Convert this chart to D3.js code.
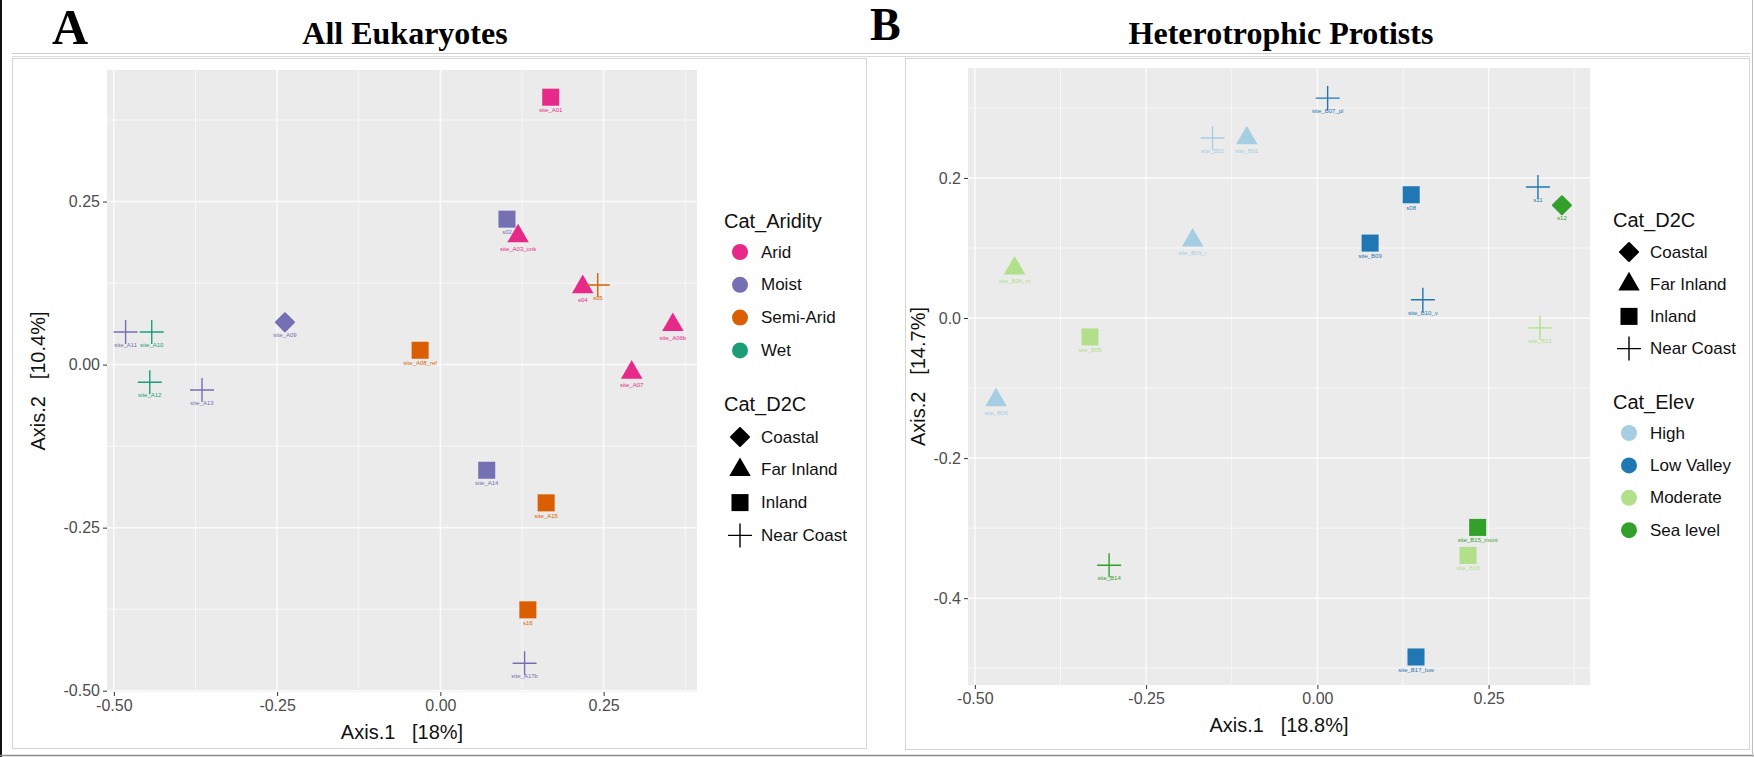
<!DOCTYPE html>
<html><head><meta charset="utf-8">
<script src="https://cdn.jsdelivr.net/npm/d3@7"></script>
<style>
html,body{margin:0;padding:0;background:#fff;}
svg{display:block;font-family:"Liberation Sans",Arial,sans-serif;}
</style></head>
<body>
<svg id="chart" width="1754" height="757"></svg>
<script>
// ---------- data ----------
const aridityCats = ["Arid", "Moist", "Semi-Arid", "Wet"];
const aridityColors = ["#E7298A", "#7570B3", "#D95F02", "#1B9E77"];
const elevCats = ["High", "Low Valley", "Moderate", "Sea level"];
const elevColors = ["#A6CEE3", "#1F78B4", "#B2DF8A", "#33A02C"];
const d2cCats = ["Coastal", "Far Inland", "Inland", "Near Coast"];

// Panel A: All Eukaryotes
const aNames = ["site_A01","s02","site_A03_unk","s04","s05","site_A06b","site_A07","site_A08_ref","site_A09","site_A10","site_A11","site_A12","site_A13","site_A14","site_A15","s16","site_A17b"];
const aX = [0.169, 0.102, 0.119, 0.218, 0.241, 0.356, 0.293, -0.031, -0.238, -0.442, -0.482, -0.445, -0.365, 0.071, 0.162, 0.134, 0.129];
const aY = [0.410, 0.223, 0.197, 0.119, 0.122, 0.061, -0.012, 0.022, 0.065, 0.050, 0.050, -0.027, -0.039, -0.162, -0.212, -0.376, -0.458];
const aAridity = ["Arid","Moist","Arid","Arid","Semi-Arid","Arid","Arid","Semi-Arid","Moist","Wet","Moist","Wet","Moist","Moist","Semi-Arid","Semi-Arid","Moist"];
const aD2C = ["Inland","Inland","Far Inland","Far Inland","Near Coast","Far Inland","Far Inland","Inland","Coastal","Near Coast","Near Coast","Near Coast","Near Coast","Inland","Inland","Inland","Near Coast"];
const aXTicks = [-0.50, -0.25, 0.00, 0.25];
const aYTicks = [-0.50, -0.25, 0.00, 0.25];

// Panel B: Heterotrophic Protists
const bNames = ["site_B01","site_B02","site_B03_r","site_B04_m","site_B05","site_B06","site_B07_pl","s08","site_B09","site_B10_v","s11","s12","site_B13","site_B14","site_B15_mont","site_B16","site_B17_low"];
const bX = [-0.103, -0.153, -0.182, -0.442, -0.332, -0.469, 0.015, 0.137, 0.077, 0.154, 0.322, 0.357, 0.325, -0.304, 0.234, 0.220, 0.144];
const bY = [0.257, 0.257, 0.111, 0.071, -0.027, -0.117, 0.314, 0.176, 0.107, 0.026, 0.187, 0.161, -0.014, -0.353, -0.299, -0.339, -0.484];
const bElev = ["High","High","High","Moderate","Moderate","High","Low Valley","Low Valley","Low Valley","Low Valley","Low Valley","Sea level","Moderate","Sea level","Sea level","Moderate","Low Valley"];
const bD2C = ["Far Inland","Near Coast","Far Inland","Far Inland","Inland","Far Inland","Near Coast","Inland","Inland","Near Coast","Near Coast","Coastal","Near Coast","Near Coast","Inland","Inland","Inland"];
const bXTicks = [-0.50, -0.25, 0.00, 0.25];
const bYTicks = [-0.4, -0.2, 0.0, 0.2];

// ---------- drawing ----------
const svg = d3.select("#chart");
const fmt = p => d => d3.format("." + p + "f")(d).replace("\u2212", "-");

// outer decorations
svg.append("line").attr("x1",12).attr("x2",1750).attr("y1",53.5).attr("y2",53.5).attr("stroke","#cfcfcf").attr("stroke-width",1);
svg.append("line").attr("x1",12).attr("x2",1750).attr("y1",56.5).attr("y2",56.5).attr("stroke","#dcdcdc").attr("stroke-width",1);
svg.append("rect").attr("x",12.5).attr("y",58.5).attr("width",854).attr("height",690).attr("fill","none").attr("stroke","#d6d6d6");
svg.append("rect").attr("x",905.5).attr("y",58.5).attr("width",844).attr("height",691).attr("fill","none").attr("stroke","#d6d6d6");
svg.append("line").attr("x1",1).attr("x2",1).attr("y1",0).attr("y2",757).attr("stroke","#111").attr("stroke-width",2);
svg.append("line").attr("x1",0).attr("x2",1754).attr("y1",755.5).attr("y2",755.5).attr("stroke","#8a8a8a").attr("stroke-width",1.5);
svg.append("line").attr("x1",1752.5).attr("x2",1752.5).attr("y1",0).attr("y2",757).attr("stroke","#bdbdbd").attr("stroke-width",1);

// panel letters and titles
const serif = '"Liberation Serif","Times New Roman",serif';
svg.append("text").attr("x",52).attr("y",44).attr("font-family",serif).attr("font-weight","bold").attr("font-size",50).text("A");
svg.append("text").attr("x",870).attr("y",40).attr("font-family",serif).attr("font-weight","bold").attr("font-size",46).text("B");
svg.append("text").attr("x",405).attr("y",44).attr("text-anchor","middle").attr("font-family",serif).attr("font-weight","bold").attr("font-size",32).text("All Eukaryotes");
svg.append("text").attr("x",1281).attr("y",44).attr("text-anchor","middle").attr("font-family",serif).attr("font-weight","bold").attr("font-size",32).text("Heterotrophic Protists");

function shape(g, type, color, cx, cy) {
  if (type === "Inland") {
    g.append("path").attr("d", d3.symbol(d3.symbolSquare, 290)()).attr("transform",`translate(${cx},${cy})`).attr("fill",color);
  } else if (type === "Far Inland") {
    g.append("path").attr("d", d3.symbol(d3.symbolTriangle, 200)()).attr("transform",`translate(${cx},${cy})`).attr("fill",color);
  } else if (type === "Coastal") {
    const r = 9;
    g.append("path").attr("d", `M0,${-r}L${r},0L0,${r}L${-r},0Z`).attr("transform",`translate(${cx},${cy})`)
      .attr("fill",color).attr("stroke",color).attr("stroke-width",2).attr("stroke-linejoin","round");
  } else {
    const r = 12;
    g.append("path").attr("d", `M${-r},0H${r}M0,${-r}V${r}`).attr("transform",`translate(${cx},${cy})`)
      .attr("fill","none").attr("stroke",color).attr("stroke-width",1.4);
  }
}

function panel(cfg) {
  const x = d3.scaleLinear().domain(cfg.xDomain).range([cfg.left, cfg.right]);
  const y = d3.scaleLinear().domain(cfg.yDomain).range([cfg.bottom, cfg.top]);
  const g = svg.append("g");
  g.append("rect").attr("x",cfg.left).attr("y",cfg.top).attr("width",cfg.right-cfg.left).attr("height",cfg.bottom-cfg.top).attr("fill","#EBEBEB");
  const xt = cfg.xTicks, yt = cfg.yTicks;
  const dx = xt[1]-xt[0], dy = yt[1]-yt[0];
  const xMinor = [], yMinor = [];
  for (let v = xt[0]-dx/2; v <= cfg.xDomain[1]; v += dx) if (v >= cfg.xDomain[0]) xMinor.push(v);
  for (let v = yt[0]-dy/2; v <= cfg.yDomain[1]; v += dy) if (v >= cfg.yDomain[0]) yMinor.push(v);
  g.selectAll(null).data(xMinor).join("line").attr("x1",d=>x(d)).attr("x2",d=>x(d)).attr("y1",cfg.top).attr("y2",cfg.bottom).attr("stroke","#fff").attr("stroke-width",0.8).attr("opacity",0.8);
  g.selectAll(null).data(yMinor).join("line").attr("y1",d=>y(d)).attr("y2",d=>y(d)).attr("x1",cfg.left).attr("x2",cfg.right).attr("stroke","#fff").attr("stroke-width",0.8).attr("opacity",0.8);
  g.selectAll(null).data(xt).join("line").attr("x1",d=>x(d)).attr("x2",d=>x(d)).attr("y1",cfg.top).attr("y2",cfg.bottom).attr("stroke","#fff").attr("stroke-width",1.5).attr("opacity",0.8);
  g.selectAll(null).data(yt).join("line").attr("y1",d=>y(d)).attr("y2",d=>y(d)).attr("x1",cfg.left).attr("x2",cfg.right).attr("stroke","#fff").attr("stroke-width",1.5).attr("opacity",0.8);

  const ax = g.append("g").attr("transform",`translate(0,${cfg.bottom})`)
    .call(d3.axisBottom(x).tickValues(xt).tickFormat(fmt(2)).tickSize(4).tickPadding(4));
  const ay = g.append("g").attr("transform",`translate(${cfg.left},0)`)
    .call(d3.axisLeft(y).tickValues(yt).tickFormat(fmt(cfg.yPrec)).tickSize(4).tickPadding(3));
  [ax, ay].forEach(a => {
    a.select(".domain").remove();
    a.selectAll(".tick line").attr("stroke","#333");
    a.selectAll(".tick text").attr("fill","#4D4D4D").attr("font-size",16).attr("font-family",'"Liberation Sans",Arial,sans-serif');
  });
  g.append("text").attr("x",(cfg.left+cfg.right)/2).attr("y",cfg.bottom+47).attr("text-anchor","middle").attr("font-size",20).attr("fill","#111").attr("xml:space","preserve").text(cfg.xTitle);
  g.append("text").attr("transform",`translate(${cfg.yTitleX},${(cfg.top+cfg.bottom)/2}) rotate(-90)`).attr("text-anchor","middle").attr("dominant-baseline","central").attr("font-size",20).attr("fill","#111").attr("xml:space","preserve").text(cfg.yTitle);

  const pts = g.append("g");
  cfg.xs.forEach((xv, i) => {
    const col = cfg.colorScale(cfg.colorVals[i]);
    shape(pts, cfg.shapes[i], col, x(xv), y(cfg.ys[i]));
    pts.append("text").attr("x",x(xv)).attr("y",y(cfg.ys[i])+15).attr("text-anchor","middle").attr("font-size",6).attr("fill",col).text(cfg.names[i]);
  });

  cfg.legends.forEach(L => {
    const lg = g.append("g");
    lg.append("text").attr("x",L.x).attr("y",L.titleY).attr("dominant-baseline","central").attr("font-size",20).attr("fill","#111").text(L.title);
    L.items.forEach((it, j) => {
      const yy = L.firstY + j * L.step;
      if (L.kind === "color") {
        lg.append("circle").attr("cx",L.x+16).attr("cy",yy).attr("r",8).attr("fill",L.colors[j]);
      } else {
        shape(lg, it, "#000", L.x+16, yy);
      }
      lg.append("text").attr("x",L.x+37).attr("y",yy).attr("dominant-baseline","central").attr("font-size",17).attr("fill","#111").text(it);
    });
  });
}

const aColor = d3.scaleOrdinal().domain(aridityCats).range(aridityColors);
const bColor = d3.scaleOrdinal().domain(elevCats).range(elevColors);

panel({
  left:107, right:697, top:70, bottom:692,
  xDomain:[-0.5105, 0.393], yDomain:[-0.502, 0.4517],
  xTicks:aXTicks, yTicks:aYTicks, yPrec:2,
  xTitle:"Axis.1   [18%]", yTitle:"Axis.2   [10.4%]", yTitleX:38,
  xs:aX, ys:aY, names:aNames, colorVals:aAridity, colorScale:aColor, shapes:aD2C,
  legends:[
    {title:"Cat_Aridity", x:724, titleY:221, firstY:252, step:32.8, kind:"color", items:aridityCats, colors:aridityColors},
    {title:"Cat_D2C", x:724, titleY:404, firstY:437, step:32.8, kind:"shape", items:d2cCats}
  ]
});

panel({
  left:968, right:1590, top:68, bottom:685,
  xDomain:[-0.510, 0.398], yDomain:[-0.524, 0.357],
  xTicks:bXTicks, yTicks:bYTicks, yPrec:1,
  xTitle:"Axis.1   [18.8%]", yTitle:"Axis.2   [14.7%]", yTitleX:918,
  xs:bX, ys:bY, names:bNames, colorVals:bElev, colorScale:bColor, shapes:bD2C,
  legends:[
    {title:"Cat_D2C", x:1613, titleY:220, firstY:252, step:32.2, kind:"shape", items:d2cCats},
    {title:"Cat_Elev", x:1613, titleY:402, firstY:433, step:32.4, kind:"color", items:elevCats, colors:elevColors}
  ]
});
</script>
</body></html>
